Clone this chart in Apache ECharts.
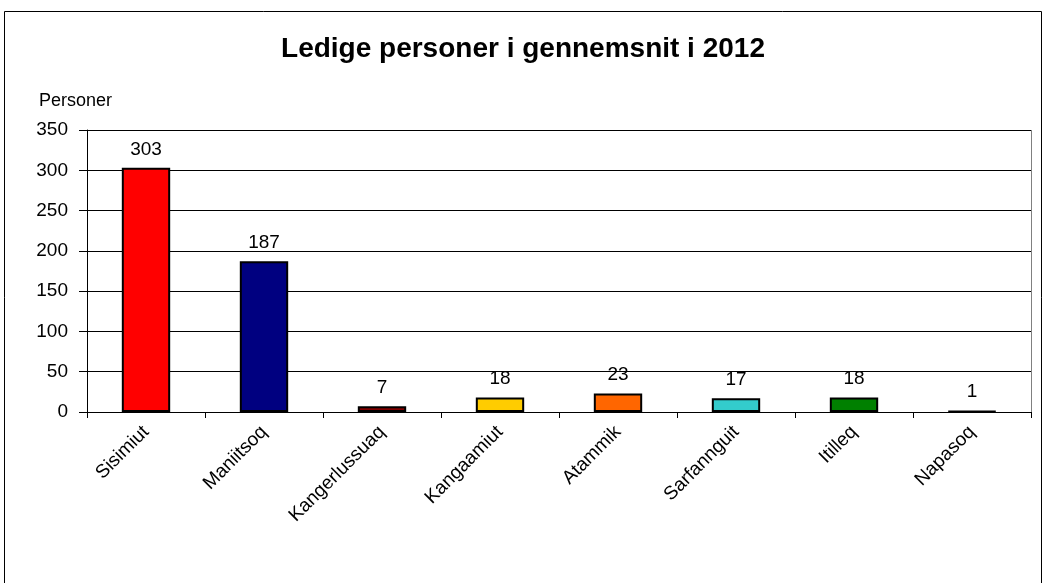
<!DOCTYPE html>
<html><head><meta charset="utf-8">
<script src="https://cdn.jsdelivr.net/npm/echarts@6/dist/echarts.min.js"></script>
<style>html,body{margin:0;padding:0;background:#fff}#c{width:1046px;height:583px}</style>
</head><body><div id="c"></div>
<script>
var categories = ["Sisimiut","Maniitsoq","Kangerlussuaq","Kangaamiut","Atammik","Sarfannguit","Itilleq","Napasoq"];
var values = [303,187,7,18,23,17,18,1];
var colors = ["#FF0000","#000080","#800000","#FFCC00","#FF6600","#33CCCC","#008000","#000000"];
var yTicks = [0,50,100,150,200,250,300,350];
var font = "Liberation Sans, Arial, sans-serif";
var chart = echarts.init(document.getElementById('c'), null, {renderer:'canvas'});
chart.setOption({
  animation:false,
  backgroundColor:'#fff',
  title:{text:'Ledige personer i gennemsnit i 2012',left:'center',top:30,
    textStyle:{fontFamily:font,fontSize:28,fontWeight:'bold',color:'#000'}},
  graphic:[
    {type:'rect',shape:{x:4.5,y:11.5,width:1037,height:600},style:{fill:null,stroke:'#000',lineWidth:1},z:-1},
    {type:'text',left:39,top:92,style:{text:'Personer',font:'18px '+font,fill:'#000'}},
    {type:'line',shape:{x1:87,y1:130.5,x2:1031,y2:130.5},style:{stroke:'#808080',lineWidth:1}},
    {type:'line',shape:{x1:1031.5,y1:130,x2:1031.5,y2:412},style:{stroke:'#808080',lineWidth:1}}
  ],
  grid:{left:87,right:15,top:130,bottom:171,containLabel:false},
  xAxis:{type:'category',data:categories,
    axisLine:{lineStyle:{color:'#000',width:1}},
    axisTick:{show:true,alignWithLabel:false,length:6,lineStyle:{color:'#000'}},
    axisLabel:{rotate:45,fontFamily:font,fontSize:19,color:'#000',margin:17,interval:0}},
  yAxis:{type:'value',min:0,max:350,interval:50,
    axisLine:{show:true,lineStyle:{color:'#000'}},
    axisTick:{show:true,length:8,lineStyle:{color:'#000'}},
    axisLabel:{fontFamily:font,fontSize:19,color:'#000',margin:19,
      formatter:function(v){return yTicks.indexOf(v)>=0?String(v):'';}},
    splitLine:{show:true,lineStyle:{color:'#000',width:1}}},
  series:[{type:'bar',barWidth:'41%',
    data:values.map(function(v,i){return {value:v,itemStyle:{color:colors[i]}};}),
    itemStyle:{borderColor:'#000',borderWidth:2},
    label:{show:true,position:'top',distance:9,fontFamily:font,fontSize:19,color:'#000'}}]
});
</script></body></html>
